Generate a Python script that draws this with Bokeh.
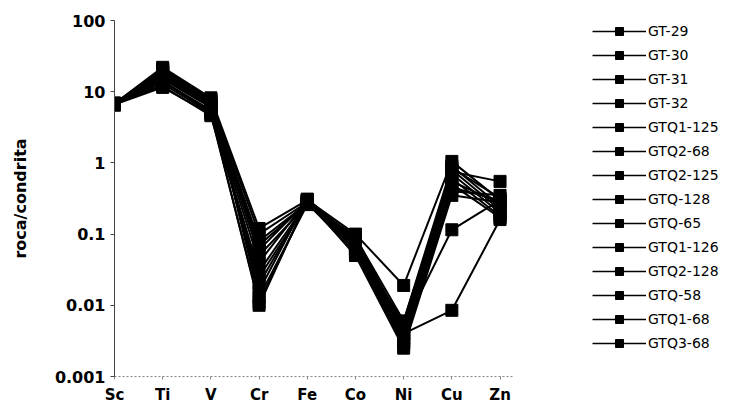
from bokeh.plotting import figure
from bokeh.layouts import row
from bokeh.models import Range1d, FixedTicker, Legend, LegendItem, CustomJSTickFormatter
from bokeh.embed import file_html
from bokeh.resources import INLINE

elements = ["Sc", "Ti", "V", "Cr", "Fe", "Co", "Ni", "Cu", "Zn"]
y_ticks = [0.001, 0.01, 0.1, 1, 10, 100]

sample_names = ["GT-29", "GT-30", "GT-31", "GT-32", "GTQ1-125", "GTQ2-68", "GTQ2-125",
                "GTQ-128", "GTQ-65", "GTQ1-126", "GTQ2-128", "GTQ-58", "GTQ1-68", "GTQ3-68"]

gt_29 = [6.8, 22, 8.2, 0.12, 0.30, 0.10, 0.019, 1.05, 0.30]
gt_30 = [6.6, 20, 7.6, 0.10, 0.28, 0.09, 0.006, 0.90, 0.25]
gt_31 = [6.9, 18, 7.0, 0.08, 0.27, 0.085, 0.005, 0.80, 0.22]
gt_32 = [6.5, 16, 6.5, 0.06, 0.29, 0.075, 0.0045, 0.70, 0.20]
gtq1_125 = [6.7, 15, 6.0, 0.05, 0.26, 0.07, 0.004, 0.60, 0.18]
gtq2_68 = [6.8, 14, 5.5, 0.04, 0.30, 0.065, 0.0035, 0.50, 0.17]
gtq2_125 = [6.6, 13, 5.0, 0.03, 0.28, 0.06, 0.003, 0.45, 0.30]
gtq_128 = [6.9, 12, 4.6, 0.025, 0.27, 0.055, 0.0028, 0.40, 0.35]
gtq_65 = [6.7, 17, 6.8, 0.02, 0.29, 0.05, 0.0025, 0.35, 0.28]
gtq1_126 = [6.5, 19, 7.2, 0.016, 0.31, 0.085, 0.005, 0.115, 0.30]
gtq2_128 = [6.8, 21, 7.8, 0.013, 0.26, 0.095, 0.004, 0.0085, 0.16]
gtq_58 = [6.6, 11.5, 4.8, 0.011, 0.28, 0.06, 0.006, 0.75, 0.55]
gtq1_68 = [6.7, 14, 5.2, 0.010, 0.30, 0.07, 0.0032, 0.55, 0.27]
gtq3_68 = [6.9, 16, 6.2, 0.07, 0.27, 0.08, 0.0038, 0.85, 0.32]

series = [gt_29, gt_30, gt_31, gt_32, gtq1_125, gtq2_68, gtq2_125,
          gtq_128, gtq_65, gtq1_126, gtq2_128, gtq_58, gtq1_68, gtq3_68]

x_pos = list(range(len(elements)))

p = figure(width=514, height=406, output_backend="svg", toolbar_location=None,
           y_axis_type="log", x_range=Range1d(0, 8.3), y_range=Range1d(0.001, 100),
           min_border_left=114, min_border_top=20, min_border_bottom=28, min_border_right=0)
p.outline_line_color = None
p.xgrid.visible = False
p.ygrid.visible = False
p.background_fill_color = "white"
p.border_fill_color = "white"

# separate panel holding the legend (same glyph styles)
leg = figure(width=215, height=406, output_backend="svg", toolbar_location=None,
             x_axis_location=None, y_axis_location=None,
             x_range=Range1d(0, 1), y_range=Range1d(0, 1),
             min_border_left=0, min_border_right=0, min_border_top=0, min_border_bottom=0)
leg.outline_line_color = None
leg.xgrid.visible = False
leg.ygrid.visible = False

items = []
for name, vals in zip(sample_names, series):
    p.line(x_pos, vals, line_color="black", line_width=2)
    p.scatter(x_pos, vals, marker="square", size=12, fill_color="black", line_color="black")
    # placeholder renderers (outside the visible range) that only feed the legend
    ln = leg.line([-5, -4], [-5, -4], line_color="black", line_width=1.5)
    sc = leg.scatter([-5], [-5], marker="square", size=12, fill_color="black", line_color="black")
    items.append(LegendItem(label=name, renderers=[ln, sc]))

legend = Legend(items=items, location=(78, 23), padding=0, margin=0, spacing=4,
                glyph_width=54, glyph_height=20, label_height=20,
                label_standoff=2,
                label_text_font="DejaVu Sans", label_text_font_size="14px",
                label_text_color="black", border_line_color=None, background_fill_alpha=0)
leg.add_layout(legend, "center")

# x axis
p.xaxis.ticker = FixedTicker(ticks=x_pos)
p.xaxis.major_label_overrides = {i: e for i, e in zip(x_pos, elements)}
p.xaxis.major_label_text_font = "DejaVu Sans"
p.xaxis.major_label_text_font_style = "bold"
p.xaxis.major_label_text_font_size = "15px"
p.xaxis.major_label_text_color = "black"
p.xaxis.axis_line_color = "#888888"
p.xaxis.axis_line_dash = "2 2"
p.xaxis.major_tick_line_color = "#888888"
p.xaxis.major_tick_in = 0
p.xaxis.major_tick_out = 3
p.xaxis.minor_tick_line_color = None
p.xaxis.major_label_standoff = 6

# y axis
p.yaxis.ticker = FixedTicker(ticks=y_ticks)
p.yaxis.formatter = CustomJSTickFormatter(code="return tick.toString();")
p.yaxis.major_label_text_font = "DejaVu Sans"
p.yaxis.major_label_text_font_style = "bold"
p.yaxis.major_label_text_font_size = "16px"
p.yaxis.major_label_text_color = "black"
p.yaxis.axis_line_color = "#444444"
p.yaxis.major_tick_line_color = "#444444"
p.yaxis.major_tick_in = 0
p.yaxis.major_tick_out = 4
p.yaxis.minor_tick_line_color = None
p.yaxis.major_label_standoff = 5
p.yaxis.axis_label = "roca/condrita"
p.yaxis.axis_label_text_font = "DejaVu Sans"
p.yaxis.axis_label_text_font_style = "bold"
p.yaxis.axis_label_text_font_size = "16px"
p.yaxis.axis_label_text_color = "black"
p.yaxis.axis_label_standoff = 22

layout = row(p, leg, spacing=0)
open("out.html", "w").write(file_html(layout, INLINE))
